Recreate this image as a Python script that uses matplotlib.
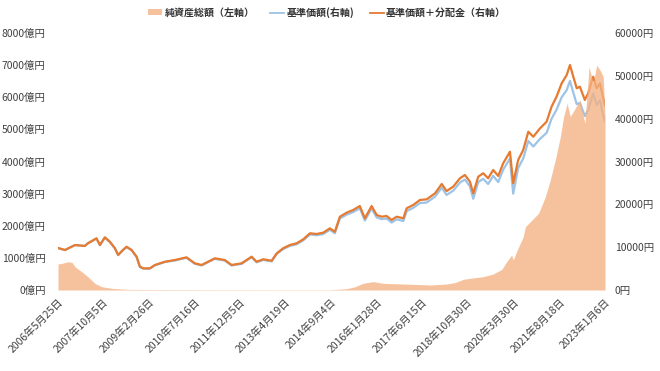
import matplotlib
matplotlib.use("Agg")
import matplotlib.pyplot as plt
from matplotlib.patches import Patch
from matplotlib.lines import Line2D
import pandas as pd

plt.rcParams['font.family'] = ['Noto Sans CJK JP', 'DejaVu Sans']

# ---- data ----
line_dates = [
    "2006-05-25", "2006-08-10", "2006-11-29", "2007-03-18", "2007-04-21", "2007-07-26",
    "2007-09-02", "2007-10-27", "2007-12-21", "2008-02-16", "2008-03-22", "2008-05-14",
    "2008-06-24", "2008-08-19", "2008-10-13", "2008-11-19", "2008-12-26", "2009-03-09",
    "2009-05-04", "2009-08-23", "2009-12-12", "2010-04-20", "2010-07-21", "2010-10-04",
    "2011-02-28", "2011-06-19", "2011-09-02", "2011-12-22", "2012-04-11", "2012-06-06",
    "2012-08-18", "2012-11-20", "2013-01-15", "2013-03-27", "2013-06-10", "2013-08-23",
    "2013-11-05", "2014-01-19", "2014-04-02", "2014-06-14", "2014-08-28", "2014-10-22",
    "2014-12-17", "2015-03-01", "2015-05-13", "2015-07-26", "2015-09-20", "2015-12-04",
    "2016-01-29", "2016-03-24", "2016-05-18", "2016-07-13", "2016-09-07", "2016-11-20",
    "2016-12-27", "2017-03-09", "2017-05-23", "2017-08-06", "2017-11-07", "2018-01-20",
    "2018-03-15", "2018-05-27", "2018-08-10", "2018-10-04", "2018-11-29", "2019-01-05",
    "2019-03-01", "2019-04-25", "2019-06-19", "2019-08-14", "2019-10-09", "2019-12-03",
    "2020-02-16", "2020-03-23", "2020-05-17", "2020-07-12", "2020-09-07", "2020-11-01",
    "2021-01-15", "2021-03-29", "2021-05-23", "2021-07-17", "2021-09-12", "2021-11-07",
    "2021-12-13", "2022-01-19", "2022-02-26", "2022-04-02", "2022-05-27", "2022-07-03",
    "2022-08-28", "2022-10-05", "2022-11-11", "2022-12-17", "2023-01-06",
]
nav_plus_dist = [
    9800, 9340, 10500, 10300, 10900, 12070,
    10500, 12300, 11280, 9740, 8200, 9340,
    10100, 9340, 7780, 5440, 5060, 5060,
    5840, 6610, 7000, 7630, 6230, 5840,
    7400, 7000, 5840, 6230, 7780, 6610,
    7170, 6840, 8570, 9740, 10510, 10900,
    11840, 13240, 13080, 13380, 14400, 13620,
    17120, 18050, 18680, 19610, 16740, 19610,
    17510, 17120, 17280, 16350, 17120, 16740,
    19080, 19850, 21020, 21170, 22580, 24750,
    23100, 24120, 26080, 26850, 25290, 22580,
    26460, 27250, 26080, 28020, 26620, 29580,
    32290, 24910, 30350, 32690, 36960, 35790,
    37750, 39300, 42800, 45130, 48260, 50200,
    52540, 49800, 47100, 47470, 44370, 45930,
    49800, 47100, 48260, 44760, 43000,
]
nav = [
    9800, 9330, 10480, 10270, 10860, 12020,
    10450, 12240, 11210, 9670, 8130, 9260,
    10020, 9260, 7700, 5370, 4990, 4990,
    5760, 6520, 6900, 7520, 6130, 5730,
    7280, 6880, 5720, 6100, 7640, 6470,
    7020, 6690, 8400, 9550, 10300, 10670,
    11590, 12960, 12780, 13060, 14050, 13260,
    16700, 17590, 18200, 19080, 16220, 19050,
    16950, 16540, 16690, 15750, 16500, 16110,
    18430, 19170, 20300, 20430, 21800, 23900,
    22200, 23180, 25080, 25800, 24200, 21300,
    25200, 25950, 24750, 26650, 25200, 28100,
    30700, 22500, 28500, 30700, 34800, 33500,
    35300, 36700, 40000, 42100, 45000, 46700,
    48800, 46100, 43400, 43700, 40600, 42100,
    45900, 43200, 44300, 40800, 39200,
]

asset_dates = [
    "2006-05-25", "2006-07-07", "2006-09-13", "2006-10-27", "2006-11-29", "2007-02-12",
    "2007-04-21", "2007-07-08", "2007-09-21", "2008-01-10", "2008-07-08", "2009-06-01",
    "2011-01-01", "2013-01-01", "2014-08-28", "2015-03-01", "2015-06-01", "2015-08-29",
    "2015-12-22", "2016-04-08", "2016-11-20", "2017-09-23", "2018-03-15", "2018-06-15",
    "2018-09-16", "2018-11-29", "2019-04-25", "2019-08-14", "2019-11-17", "2020-01-11",
    "2020-03-06", "2020-03-23", "2020-04-30", "2020-07-12", "2020-08-05", "2020-10-18",
    "2020-12-30", "2021-03-14", "2021-05-08", "2021-07-03", "2021-08-28", "2021-10-04",
    "2021-11-11", "2021-12-17", "2022-04-02", "2022-05-27", "2022-07-13", "2022-08-28",
    "2022-10-05", "2022-11-11", "2022-12-17", "2023-01-06",
]
net_assets = [
    810, 830, 880, 860, 725, 570,
    415, 208, 104, 52, 20, 15,
    12, 10, 10, 40, 100, 208,
    260, 208, 187, 156, 187, 230,
    332, 363, 415, 498, 643, 882,
    1090, 934, 1200, 1660, 1970, 2180,
    2390, 2900, 3420, 4050, 4770, 5400,
    5810, 5400, 5910, 5190, 6950, 6430,
    7000, 6850, 6640, 5400,
]

tick_dates = [
    "2006-05-25", "2007-10-05", "2009-02-26", "2010-07-16", "2011-12-05", "2013-04-19",
    "2014-09-04", "2016-01-28", "2017-06-15", "2018-10-30", "2020-03-30", "2021-08-18",
    "2023-01-06",
]
left_ticks = [0, 1000, 2000, 3000, 4000, 5000, 6000, 7000, 8000]
right_ticks = [0, 10000, 20000, 30000, 40000, 50000, 60000]

label_area = "純資産総額（左軸）"
label_nav = "基準価額(右軸)"
label_navd = "基準価額＋分配金（右軸）"

# ---- styles ----
c_area = "#F4B183"
c_nav = "#9DC3E6"
c_navd = "#E57A30"
c_text = "#404040"

ld = pd.to_datetime(line_dates)
ad = pd.to_datetime(asset_dates)
td = pd.to_datetime(tick_dates)

fig = plt.figure(figsize=(6.6, 3.71), dpi=100)
ax = fig.add_axes([0.0879, 0.2183, 0.8288, 0.6927])
ax2 = ax.twinx()

ax2.plot(ld, nav, color=c_nav, lw=1.6, zorder=2)
ax2.plot(ld, nav_plus_dist, color=c_navd, lw=1.6, zorder=3)
ax.fill_between(ad, 0, net_assets, color=c_area, alpha=0.78, lw=0, zorder=4)

ax.set_zorder(ax2.get_zorder() + 1)
ax.patch.set_visible(False)

ax.set_xlim(td[0], td[-1])
ax.set_ylim(0, 8000)
ax2.set_ylim(0, 60000)

ax.set_yticks(left_ticks)
ax.set_yticklabels([f"{v}億円" for v in left_ticks])
ax2.set_yticks(right_ticks)
ax2.set_yticklabels([f"{v}円" for v in right_ticks])

ax.set_xticks(td)
ax.set_xticklabels([f"{d.year}年{d.month}月{d.day}日" for d in td],
                   rotation=45, ha="right", rotation_mode="anchor")

for a in (ax, ax2):
    for s in a.spines.values():
        s.set_visible(False)
    a.tick_params(length=0, labelsize=7.5, colors=c_text)
ax.tick_params(axis="y", pad=9)
ax2.tick_params(axis="y", pad=7)
ax.tick_params(axis="x", pad=5)

handles = [
    Patch(facecolor=c_area, alpha=0.78, edgecolor="none"),
    Line2D([], [], color=c_nav, lw=1.3),
    Line2D([], [], color=c_navd, lw=1.3),
]
leg = fig.legend(handles, [label_area, label_nav, label_navd], loc="upper center",
                 bbox_to_anchor=(0.496, 1.005), ncol=3, frameon=False,
                 prop={"size": 7.2, "weight": "bold"}, handlelength=1.35,
                 handleheight=0.55, columnspacing=1.6, handletextpad=0.25)
for t in leg.get_texts():
    t.set_color("#333333")

fig.savefig("out.png", dpi=100)
